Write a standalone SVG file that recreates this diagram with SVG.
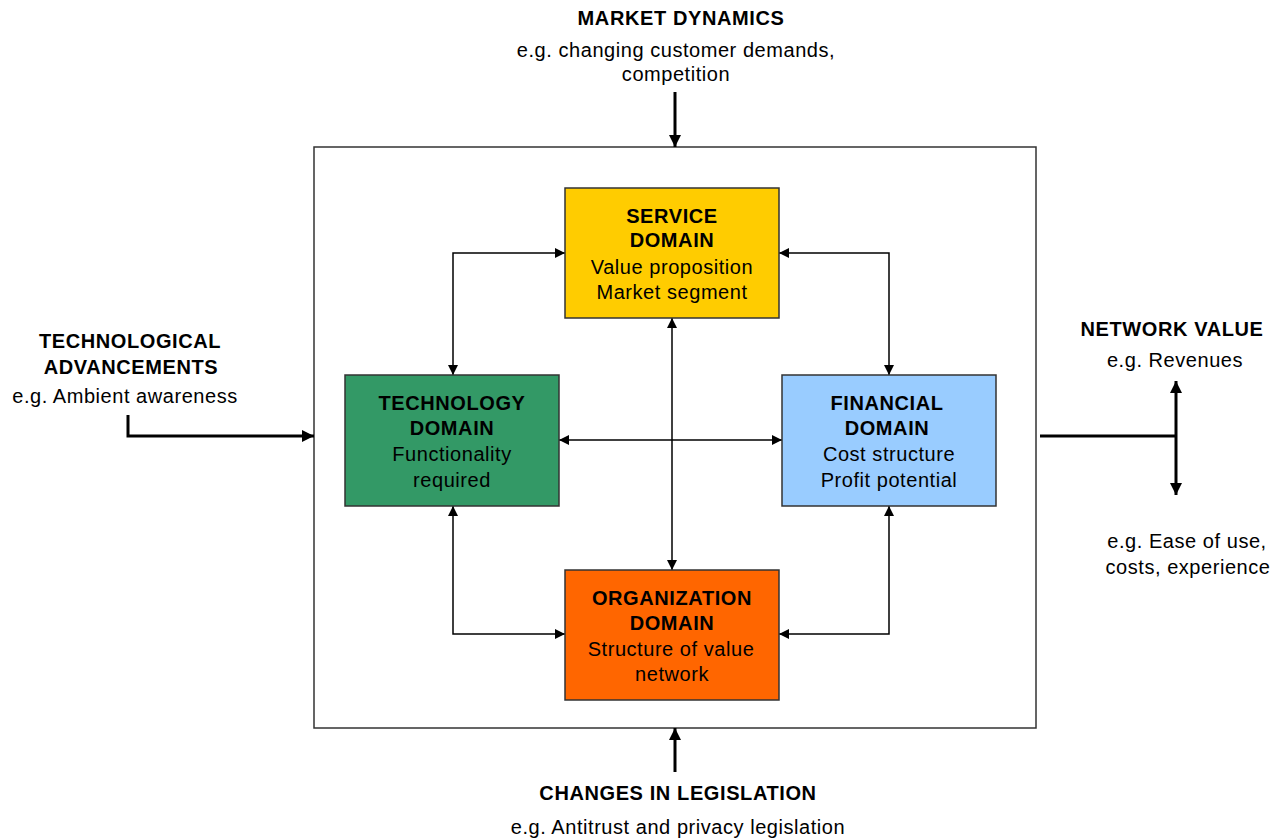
<svg xmlns="http://www.w3.org/2000/svg" width="1272" height="838" viewBox="0 0 1272 838">
<defs>
<marker id="ah" viewBox="0 0 10 10" refX="10" refY="5" markerWidth="10" markerHeight="10" markerUnits="userSpaceOnUse" orient="auto-start-reverse"><path d="M0,0 L10,5 L0,10 z" fill="#000"/></marker>
<marker id="ahb" viewBox="0 0 10 10" refX="10" refY="5" markerWidth="4" markerHeight="4" orient="auto-start-reverse"><path d="M0,0 L10,5 L0,10 z" fill="#000"/></marker>
</defs>
<style>
text{font-family:"Liberation Sans",Arial,sans-serif;fill:#000;text-anchor:middle}
.t{font-size:20px;font-weight:bold;letter-spacing:0.6px}
.s{font-size:20px;letter-spacing:0.55px}
.box{stroke:#333;stroke-width:1.5}
.c{fill:none;stroke:#000;stroke-width:1.5}
.k{fill:none;stroke:#000;stroke-width:3}
</style>
<rect id="frame" x="314" y="147" width="722" height="581" fill="#fff" stroke="#333" stroke-width="1.5"/>
<g id="connectors">
<path class="c" d="M565,253 H453 V375" marker-start="url(#ah)" marker-end="url(#ah)"/>
<path class="c" d="M779,253 H889 V375" marker-start="url(#ah)" marker-end="url(#ah)"/>
<path class="c" d="M453,506 V634 H565" marker-start="url(#ah)" marker-end="url(#ah)"/>
<path class="c" d="M889,506 V634 H779" marker-start="url(#ah)" marker-end="url(#ah)"/>
<path class="c" d="M672,318 V570" marker-start="url(#ah)" marker-end="url(#ah)"/>
<path class="c" d="M559,440 H782" marker-start="url(#ah)" marker-end="url(#ah)"/>
<path class="k" d="M675,92 V147" marker-end="url(#ahb)"/>
<path class="k" d="M675,772 V728" marker-end="url(#ahb)"/>
<path class="k" d="M128,415 V436 H314" marker-end="url(#ahb)"/>
<path class="k" d="M1040,436 H1176"/>
<path class="k" d="M1176,381 V495" marker-start="url(#ahb)" marker-end="url(#ahb)"/>
</g>
<g id="service">
<rect class="box" x="565" y="188" width="214" height="130" fill="#FFCC00"/>
<text class="t" x="672" y="223">SERVICE</text>
<text class="t" x="672" y="247">DOMAIN</text>
<text class="s" x="672" y="274">Value proposition</text>
<text class="s" x="672" y="299">Market segment</text>
</g>
<g id="technology">
<rect class="box" x="345" y="375" width="214" height="131" fill="#339966"/>
<text class="t" x="452" y="410">TECHNOLOGY</text>
<text class="t" x="452" y="435">DOMAIN</text>
<text class="s" x="452" y="461">Functionality</text>
<text class="s" x="452" y="487">required</text>
</g>
<g id="financial">
<rect class="box" x="782" y="375" width="214" height="131" fill="#99CCFF"/>
<text class="t" x="887" y="410">FINANCIAL</text>
<text class="t" x="887" y="435">DOMAIN</text>
<text class="s" x="889" y="461">Cost structure</text>
<text class="s" x="889" y="487">Profit potential</text>
</g>
<g id="organization">
<rect class="box" x="565" y="570" width="214" height="130" fill="#FF6600"/>
<text class="t" x="672" y="605">ORGANIZATION</text>
<text class="t" x="672" y="630">DOMAIN</text>
<text class="s" x="671" y="656">Structure of value</text>
<text class="s" x="672" y="681">network</text>
</g>
<g id="market">
<text class="t" x="681" y="25">MARKET DYNAMICS</text>
<text class="s" x="676" y="57">e.g. changing customer demands,</text>
<text class="s" x="676" y="81">competition</text>
</g>
<g id="techadv">
<text class="t" x="130" y="348">TECHNOLOGICAL</text>
<text class="t" x="131" y="374">ADVANCEMENTS</text>
<text class="s" x="125" y="403">e.g. Ambient awareness</text>
</g>
<g id="network">
<text class="t" x="1172" y="336">NETWORK VALUE</text>
<text class="s" x="1175" y="367">e.g. Revenues</text>
<text class="s" x="1187" y="548">e.g. Ease of use,</text>
<text class="s" x="1188" y="574">costs, experience</text>
</g>
<g id="legislation">
<text class="t" x="678" y="800">CHANGES IN LEGISLATION</text>
<text class="s" x="678" y="834">e.g. Antitrust and privacy legislation</text>
</g>
</svg>
